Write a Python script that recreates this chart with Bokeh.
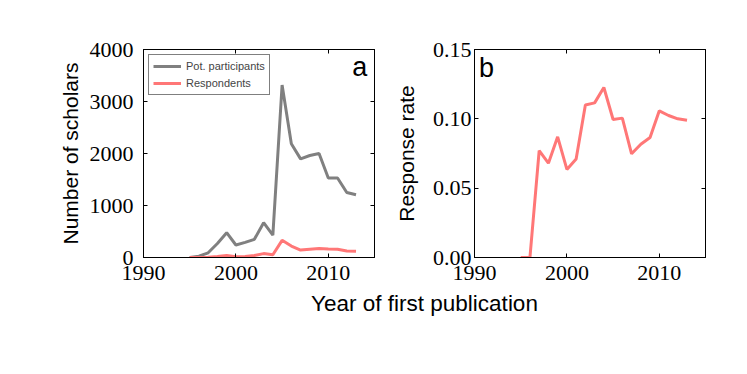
from bokeh.plotting import figure
from bokeh.layouts import column, row
from bokeh.models import (Range1d, LinearAxis, FixedTicker, NumeralTickFormatter,
                          Legend, LegendItem, Label)
from bokeh.embed import file_html
from bokeh.resources import INLINE

years = [1995, 1996, 1997, 1998, 1999, 2000, 2001, 2002, 2003, 2004,
         2005, 2006, 2007, 2008, 2009, 2010, 2011, 2012, 2013]
participants = [0, 26, 90, 270, 477, 240, 290, 350, 670, 430,
                3316, 2187, 1897, 1961, 2000, 1529, 1529, 1250, 1206]
respondents = [0, 0, 7, 18, 41, 15, 21, 39, 75, 53,
               330, 220, 142, 160, 172, 162, 157, 125, 119]
response_rate = [0.0, 0.0, 0.077, 0.068, 0.087, 0.0635, 0.071, 0.110, 0.1115, 0.1226,
                 0.0995, 0.1005, 0.0748, 0.0817, 0.0865, 0.1058, 0.1024, 0.100, 0.099]

x_ticks = [1990, 2000, 2010]
ya_ticks = [0, 1000, 2000, 3000, 4000]
yb_ticks = [0.0, 0.05, 0.10, 0.15]

GREY = "#808080"
RED = "#ff7777"
SERIF = "Liberation Serif"
SANS = "Liberation Sans"


def style_axis(ax, ticks, show_labels=True, standoff=6):
    ax.ticker = FixedTicker(ticks=ticks)
    ax.major_tick_in = 4
    ax.major_tick_out = 0
    ax.minor_tick_in = 0
    ax.minor_tick_out = 0
    ax.axis_line_color = "black"
    ax.major_tick_line_color = "black"
    ax.major_label_text_font = SERIF
    ax.major_label_text_color = "black"
    ax.major_label_standoff = standoff
    if show_labels:
        ax.major_label_text_font_size = "22px"
    else:
        ax.major_label_text_font_size = "0px"
        ax.major_label_text_color = None
    ax.axis_label_text_font = SANS
    ax.axis_label_text_font_style = "normal"
    ax.axis_label_text_font_size = "21px"
    ax.axis_label_text_color = "black"


def make_fig(width, left, right, yr, yticks):
    p = figure(width=width, height=290, output_backend="svg", toolbar_location=None,
               x_range=Range1d(1990, 2015), y_range=yr,
               x_axis_location=None, y_axis_location=None,
               min_border_left=left, min_border_right=right,
               min_border_top=49, min_border_bottom=33)
    p.xgrid.visible = False
    p.ygrid.visible = False
    p.outline_line_color = "black"
    p.outline_line_width = 1
    p.background_fill_color = "white"
    p.border_fill_color = "white"
    bottom = LinearAxis()
    left_ax = LinearAxis()
    top = LinearAxis()
    rgt = LinearAxis()
    p.add_layout(bottom, "below")
    p.add_layout(left_ax, "left")
    p.add_layout(top, "above")
    p.add_layout(rgt, "right")
    style_axis(bottom, x_ticks, standoff=8)
    style_axis(top, x_ticks, show_labels=False)
    style_axis(left_ax, yticks)
    style_axis(rgt, yticks, show_labels=False)
    return p, left_ax


# Panel a
pa, pa_left = make_fig(380, 143, 6, Range1d(0, 4000), ya_ticks)
pa_left.axis_label = "Number of scholars"
pa_left.major_label_standoff = 10
pa_left.axis_label_standoff = 5
r1 = pa.line(years, participants, line_color=GREY, line_width=3)
r2 = pa.line(years, respondents, line_color=RED, line_width=3)
leg = Legend(items=[LegendItem(label="Pot. participants", renderers=[r1]),
                    LegendItem(label="Respondents", renderers=[r2])],
             location="top_left", margin=5, padding=4, spacing=3,
             glyph_width=28, glyph_height=14, label_height=14, label_standoff=5,
             label_text_font=SANS, label_text_font_size="11px",
             border_line_color="black", border_line_width=1,
             background_fill_alpha=1.0)
pa.add_layout(leg)
pa.add_layout(Label(x=2012.6, y=3660, text="a", text_font=SANS, text_color="black",
                    text_font_size="27px", text_baseline="alphabetic"))

# Panel b
pb, pb_left = make_fig(367, 94, 42, Range1d(0, 0.15), yb_ticks)
pb_left.axis_label = "Response rate"
pb_left.formatter = NumeralTickFormatter(format="0.00")
pb_left.major_label_standoff = 3
pb_left.axis_label_standoff = 12
pb.line(years, response_rate, line_color=RED, line_width=3)
pb.add_layout(Label(x=1990.5, y=0.137, text="b", text_font=SANS, text_color="black",
                    text_font_size="27px", text_baseline="alphabetic"))

# Shared x label
px = figure(width=747, height=40, output_backend="svg", toolbar_location=None,
            x_range=Range1d(0, 747), y_range=Range1d(0, 40),
            min_border=0)
px.axis.visible = False
px.grid.visible = False
px.outline_line_color = None
px.add_layout(Label(x=424, y=27.5, text="Year of first publication",
                    text_font=SANS, text_font_size="22.5px", text_color="black",
                    text_align="center", text_baseline="middle"))

layout = column(row(pa, pb), px)
open("out.html", "w").write(file_html(layout, INLINE))
